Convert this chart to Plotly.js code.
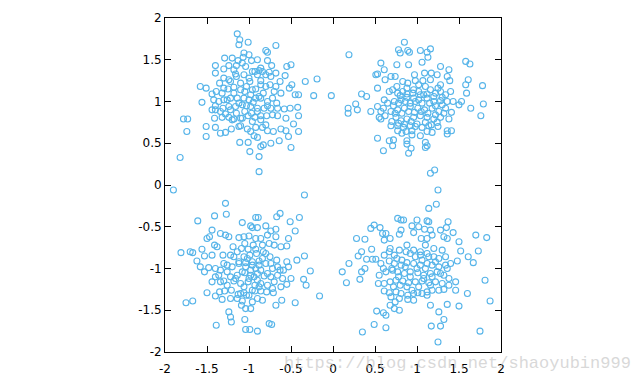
<!DOCTYPE html>
<html><head><meta charset="utf-8">
<script src="https://cdn.plot.ly/plotly-3.0.1.min.js"></script>
<style>html,body{margin:0;padding:0;background:#fff}#chart{width:640px;height:384px}</style>
</head><body><div id="chart"></div>
<script>
// Cluster A (upper left)
const clusterA_x = [
-1.14,-1.11,-1.12,-1.01,-0.68,-0.80,-0.78,-1.29,-1.20,-1.13,
-1.06,-1.00,-1.07,-1.08,-0.97,-0.90,-1.40,-1.40,-1.24,-1.15,
-1.04,-0.86,-0.88,-0.78,-0.73,-0.55,-0.50,-1.30,-1.18,-0.96,
-0.84,-0.76,-0.68,-0.57,-0.33,-0.19,-1.30,-1.24,-1.22,-1.15,
-1.06,-0.99,-0.90,-0.74,-0.63,-0.49,-0.52,-1.58,-1.51,-1.44,
-1.39,-1.32,-1.30,-1.18,-1.10,-1.03,-0.96,-0.86,-0.80,-0.70,
-0.45,-0.41,-0.23,-0.02,-1.56,-1.42,-1.36,-1.26,-1.22,-1.14,
-1.06,-1.00,-0.92,-0.86,-0.78,-0.67,-1.44,-1.40,-1.31,-1.24,
-1.16,-1.08,-0.98,-0.90,-0.82,-0.74,-0.58,-0.51,-0.42,-1.78,
-1.73,-1.74,-1.51,-1.51,-1.41,-1.40,-1.32,-1.24,-1.18,-1.10,
-1.01,-0.93,-0.86,-0.79,-0.66,-0.56,-0.47,-0.41,-0.41,-1.34,
-1.28,-1.21,-1.10,-1.02,-0.92,-0.84,-0.78,-0.71,-0.62,-0.56,
-0.53,-0.64,-0.50,-1.11,-1.01,-0.94,-0.90,-0.86,-0.83,-0.74,
-0.99,-0.88,-1.82,-0.88,
-1.18,-1.05,-0.98,-0.92,-1.12,-1.03,-0.95,-0.88,-0.83,-1.22,
-1.15,-1.05,-0.97,-0.90,-0.78,-0.72,-0.75,-0.86,-1.00,-1.10,
-1.25,-1.30,-1.28,-1.20,-1.08,-0.96,-0.86,-0.72,-0.66,-0.62,
-0.68,-0.80,-0.93,-1.16,-1.35,-1.40,-1.34,-1.12,-0.98,-0.80];
const clusterA_y = [
1.81,1.74,1.68,1.71,1.67,1.61,1.59,1.52,1.52,1.49,
1.58,1.56,1.53,1.46,1.49,1.50,1.43,1.34,1.43,1.43,
1.42,1.40,1.37,1.49,1.43,1.42,1.44,1.39,1.38,1.36,
1.36,1.35,1.34,1.31,1.24,1.27,1.28,1.26,1.24,1.30,
1.32,1.24,1.32,1.30,1.24,1.20,1.16,1.18,1.16,1.09,
1.12,1.10,1.16,1.17,1.14,1.18,1.14,1.20,1.18,1.12,
1.08,1.08,1.07,1.07,0.99,1.02,1.00,1.02,1.04,1.04,
1.04,1.02,1.04,1.04,1.00,0.98,0.90,0.90,0.92,0.94,
0.94,0.96,0.94,0.92,0.92,0.92,0.91,0.92,0.93,0.79,
0.79,0.64,0.70,0.58,0.80,0.69,0.81,0.81,0.79,0.80,
0.83,0.81,0.83,0.83,0.83,0.80,0.73,0.83,0.64,0.62,
0.63,0.67,0.71,0.67,0.69,0.69,0.65,0.64,0.67,0.65,
0.58,0.53,0.45,0.51,0.51,0.59,0.57,0.46,0.48,0.50,
0.40,0.34,0.33,0.16,
1.10,1.12,1.08,1.15,0.98,0.95,0.99,1.06,1.10,0.90,
0.86,0.88,0.86,0.88,0.95,1.04,1.20,1.25,1.28,1.22,
1.15,1.02,0.85,0.78,0.80,0.76,0.78,0.84,0.92,1.10,
1.18,1.32,1.36,1.33,1.22,0.95,0.88,0.70,0.64,0.72];

// Cluster B (upper right)
const clusterB_x = [
0.85,0.78,0.80,0.89,0.91,1.04,1.16,1.12,1.13,1.06,
0.19,0.57,0.76,0.90,1.28,1.38,1.58,1.63,0.61,0.53,
0.51,0.69,0.74,0.62,0.83,0.89,0.97,1.09,1.17,1.24,
0.98,1.07,1.16,1.28,1.36,1.39,1.61,1.58,1.78,
0.34,0.40,0.27,0.18,0.29,0.18,0.45,0.53,0.53,0.57,
0.61,0.67,0.71,0.77,0.83,0.88,0.96,1.02,1.08,1.16,
1.22,1.28,1.34,1.40,1.59,1.53,1.50,1.64,1.79,1.76,
1.43,0.65,0.73,0.81,0.88,0.96,1.02,1.12,1.20,1.28,
1.36,0.69,0.77,0.85,0.92,1.01,1.09,1.18,1.26,1.34,
1.41,0.55,0.57,0.75,0.81,0.88,0.96,1.04,1.12,1.20,
1.28,1.38,0.69,0.77,0.84,0.92,1.00,1.06,1.14,1.24,
1.36,1.41,1.36,0.77,0.87,0.94,1.04,1.12,1.18,0.53,
0.67,0.72,0.71,0.88,0.88,0.93,1.10,1.12,1.10,0.60,0.90,1.21,1.16,
0.72,0.78,0.86,0.92,0.98,1.06,1.15,1.22,0.74,0.82,
0.90,0.97,1.05,1.13,1.22,0.70,0.78,0.85,0.93,1.10,
1.17,1.25,0.80,0.88,0.95,1.04,1.12,1.20,0.60,0.62,
1.30,1.32,0.82,0.94,0.76,1.02,1.10,1.25,0.98,1.30];
const clusterB_y = [
1.71,1.62,1.58,1.61,1.59,1.61,1.63,1.59,1.53,1.47,
1.56,1.46,1.44,1.44,1.42,1.38,1.48,1.45,1.38,1.33,
1.32,1.30,1.30,1.26,1.24,1.22,1.32,1.34,1.34,1.32,
1.25,1.25,1.26,1.20,1.30,1.25,1.26,1.20,1.19,
1.09,1.06,0.97,0.92,0.90,0.86,0.88,1.16,0.94,0.88,
1.02,1.12,1.14,1.10,1.12,1.16,1.14,1.12,1.08,1.14,
1.10,1.12,1.08,1.12,1.10,1.00,0.96,0.92,0.97,0.83,
1.00,0.98,1.00,1.02,1.05,1.04,1.02,1.04,1.00,1.01,
1.00,0.88,0.90,0.92,0.94,0.92,0.90,0.92,0.88,0.92,
0.87,0.81,0.79,0.81,0.77,0.79,0.81,0.83,0.81,0.79,
0.81,0.79,0.71,0.71,0.69,0.71,0.73,0.69,0.71,0.75,
0.65,0.65,0.61,0.65,0.64,0.65,0.59,0.64,0.63,0.56,
0.53,0.54,0.47,0.53,0.49,0.44,0.51,0.47,0.45,0.41,0.38,0.18,0.14,
0.95,0.98,1.00,0.98,1.00,0.98,0.98,0.95,0.86,0.86,
0.88,0.87,0.88,0.86,0.84,0.76,0.74,0.73,0.76,0.75,
0.72,0.70,1.07,1.09,1.10,1.08,1.09,1.06,0.92,0.83,
0.96,0.86,0.62,0.60,1.18,1.20,1.18,1.16,0.70,1.05];

// Cluster C (lower left)
const clusterC_x = [
-1.90,-0.34,-1.28,-1.27,-1.41,-1.61,-0.63,-0.67,-0.92,-0.89,
-0.40,-1.08,-0.98,-0.96,-0.90,-0.80,-0.74,-0.68,-0.51,-0.45,
-1.44,-1.50,-1.47,-1.34,-1.28,-1.24,-1.12,-1.06,-1.00,-0.92,
-0.86,-0.78,-0.68,-0.53,-0.55,-0.62,-1.41,-1.38,-1.19,-1.09,
-1.01,-0.92,-0.84,-0.76,-0.70,-1.81,-1.70,-1.67,-1.56,-1.53,
-1.62,-1.44,-1.31,-1.22,-1.14,-1.06,-0.99,-0.91,-0.83,-0.75,
-0.67,-0.55,-0.43,-0.34,-1.58,-1.53,-1.48,-1.40,-1.34,-1.26,
-1.20,-1.12,-1.04,-0.96,-0.88,-0.80,-0.72,-0.63,-0.53,-0.27,
-1.44,-1.36,-1.30,-1.22,-1.14,-1.05,-0.98,-0.90,-0.82,-0.74,
-0.66,-0.59,-0.50,-0.35,-0.32,-1.34,-1.26,-1.18,-1.10,-1.01,
-0.93,-0.86,-0.78,-0.70,-0.62,-0.55,-1.50,-1.40,-1.35,-1.29,
-1.21,-1.13,-1.06,-1.00,-0.93,-0.86,-0.79,-0.71,-1.32,-1.22,
-1.14,-1.08,-1.03,-0.96,-0.90,-0.84,-0.68,-0.61,-0.45,-0.16,
-1.75,-1.67,-1.09,-1.04,-0.98,-1.24,-1.22,-1.21,-1.05,-1.39,
-1.04,-0.99,-0.90,-0.76,-0.73,
-1.02,-0.96,-0.92,-0.98,-1.04,-0.94,-1.00,-0.90,-0.86,-1.08,
-1.12,-0.84,-1.16,-1.06,-0.96,-0.88,-0.78,-0.74,-0.80,-1.18,
-1.26,-1.30,-1.10,-0.72,-0.66,-1.40,-0.95,-1.05,-0.60,-0.88];
const clusterC_y = [
-0.06,-0.12,-0.22,-0.35,-0.37,-0.43,-0.34,-0.38,-0.39,-0.39,
-0.39,-0.45,-0.49,-0.51,-0.51,-0.49,-0.55,-0.53,-0.44,-0.55,
-0.54,-0.64,-0.62,-0.58,-0.60,-0.62,-0.63,-0.62,-0.61,-0.64,
-0.64,-0.60,-0.62,-0.64,-0.73,-0.74,-0.72,-0.74,-0.74,-0.76,
-0.77,-0.77,-0.72,-0.70,-0.72,-0.81,-0.80,-0.81,-0.77,-0.85,
-0.91,-0.84,-0.84,-0.84,-0.80,-0.86,-0.84,-0.82,-0.80,-0.86,
-0.90,-0.92,-0.90,-0.85,-0.98,-1.04,-0.99,-1.00,-1.02,-0.96,
-0.98,-0.94,-0.93,-0.92,-0.91,-0.94,-1.00,-1.02,-0.98,-1.03,
-1.16,-1.08,-1.15,-1.10,-1.08,-1.05,-1.08,-1.06,-1.09,-1.10,
-1.08,-1.02,-1.12,-1.13,-1.20,-1.16,-1.20,-1.15,-1.18,-1.16,
-1.20,-1.18,-1.20,-1.16,-1.22,-1.19,-1.29,-1.33,-1.28,-1.27,
-1.26,-1.31,-1.29,-1.32,-1.27,-1.27,-1.28,-1.29,-1.37,-1.36,
-1.36,-1.39,-1.32,-1.40,-1.36,-1.38,-1.44,-1.38,-1.41,-1.33,
-1.41,-1.39,-1.44,-1.48,-1.48,-1.52,-1.58,-1.64,-1.61,-1.68,
-1.73,-1.73,-1.75,-1.66,-1.67,
-0.88,-0.96,-1.00,-1.02,-0.98,-1.10,-1.12,-1.14,-1.02,-1.04,
-0.92,-0.88,-1.12,-1.22,-1.26,-1.22,-1.06,-0.94,-0.82,-0.86,
-1.04,-0.94,-1.30,-1.24,-0.98,-1.10,-0.72,-0.70,-1.12,-0.96];

// Cluster D (lower right)
const clusterD_x = [
1.25,1.23,1.14,0.77,0.81,0.84,1.00,1.12,1.14,1.37,
0.49,0.56,0.45,0.94,1.02,1.09,1.16,1.28,1.35,1.43,
0.28,0.38,0.59,0.63,0.61,0.68,0.79,0.81,0.96,1.05,
1.12,1.18,1.32,1.36,1.50,1.70,1.83,1.52,1.61,1.73,
0.30,0.34,0.19,0.11,0.16,0.34,0.32,0.38,0.40,0.47,
0.51,0.46,0.57,0.61,0.67,0.73,0.79,0.87,0.92,0.98,
1.04,1.12,1.20,1.26,1.34,1.40,1.48,1.67,0.67,0.73,
0.81,0.88,0.96,1.04,1.12,1.18,1.26,1.36,0.55,0.63,
0.71,0.77,0.85,0.92,1.01,1.08,1.16,1.24,1.32,1.38,
1.46,1.81,0.54,0.61,0.68,0.75,0.83,0.90,0.98,1.06,
1.14,1.22,1.30,1.38,1.46,1.60,0.61,0.67,0.75,0.81,
0.89,0.96,1.01,1.06,1.12,1.18,1.26,1.32,0.89,0.96,
0.69,0.79,0.74,1.16,1.36,1.50,1.87,0.52,0.60,0.63,
0.68,0.73,0.79,1.26,1.32,0.49,0.63,1.17,1.28,0.35,
1.75,1.25,
0.76,0.82,0.70,0.78,0.86,0.92,1.00,1.06,1.10,1.08,
1.14,1.18,1.22,1.28,1.16,1.02,0.88,0.72,0.68,0.88,
1.10,1.20,1.30,0.60,1.34,0.96,1.04,0.80,1.12,0.94];
const clusterD_y = [
-0.06,-0.23,-0.28,-0.40,-0.42,-0.42,-0.42,-0.43,-0.44,-0.44,
-0.48,-0.51,-0.52,-0.49,-0.50,-0.53,-0.54,-0.54,-0.51,-0.57,
-0.64,-0.65,-0.58,-0.58,-0.66,-0.64,-0.59,-0.54,-0.57,-0.64,
-0.64,-0.60,-0.62,-0.64,-0.68,-0.60,-0.63,-0.79,-0.86,-0.79,
-0.85,-0.80,-0.94,-1.04,-1.17,-1.04,-1.13,-1.00,-0.89,-0.89,
-0.89,-0.77,-0.94,-0.84,-0.80,-0.84,-0.78,-0.80,-0.82,-0.86,
-0.84,-0.82,-0.86,-0.88,-0.86,-0.94,-0.91,-0.93,-0.91,-0.94,
-0.96,-0.93,-0.94,-0.96,-0.94,-0.96,-0.98,-1.00,-1.08,-1.04,
-1.02,-1.04,-1.06,-1.04,-1.05,-1.08,-1.06,-1.04,-1.08,-1.12,
-1.16,-1.14,-1.18,-1.18,-1.16,-1.14,-1.15,-1.17,-1.16,-1.15,
-1.17,-1.16,-1.18,-1.20,-1.26,-1.30,-1.27,-1.29,-1.28,-1.30,
-1.32,-1.30,-1.29,-1.30,-1.28,-1.26,-1.26,-1.25,-1.37,-1.38,
-1.34,-1.36,-1.40,-1.44,-1.43,-1.45,-1.39,-1.51,-1.53,-1.56,
-1.44,-1.48,-1.50,-1.52,-1.61,-1.67,-1.71,-1.69,-1.69,-1.76,
-1.75,-1.88,
-0.88,-0.90,-1.00,-1.10,-0.98,-1.10,-1.00,-0.90,-1.00,-1.12,
-0.86,-1.10,-0.92,-1.06,-1.20,-1.22,-1.22,-1.22,-0.76,-0.72,
-0.72,-0.76,-0.78,-1.00,-0.96,-0.78,-0.80,-1.20,-1.32,-1.26];

const tickValues = [-2,-1.5,-1,-0.5,0,0.5,1,1.5,2];
const tickLabels = ["-2","-1.5","-1","-0.5","0","0.5","1","1.5","2"];
const watermarkText = "https://blog.csdn.net/shaoyubin999";

const markerStyle = {symbol:'circle-open', size:6, color:'#56b4e9', line:{width:1.1, color:'#56b4e9'}};
function mk(x,y){return {type:'scatter', mode:'markers', x:x, y:y, marker:markerStyle, showlegend:false, hoverinfo:'none'};}
const data = [mk(clusterA_x,clusterA_y), mk(clusterB_x,clusterB_y), mk(clusterC_x,clusterC_y), mk(clusterD_x,clusterD_y)];

const axisCommon = {
  range:[-2,2], tickvals:tickValues, ticktext:tickLabels,
  showgrid:false, zeroline:false, showline:true, mirror:'ticks',
  linecolor:'#000', linewidth:1, ticks:'inside', ticklen:6, tickcolor:'#000', tickwidth:1,
  tickfont:{family:'DejaVu Sans', size:12, color:'#000'}
};
const layout = {
  width:640, height:384,
  margin:{l:165, r:139, t:18, b:32, pad:0},
  paper_bgcolor:'#fff', plot_bgcolor:'#fff',
  xaxis:Object.assign({}, axisCommon, {ticklabelstandoff:6}),
  yaxis:Object.assign({}, axisCommon),
  annotations:[{
    text:watermarkText, xref:'paper', yref:'paper', x:0.872, y:-0.033,
    xanchor:'center', yanchor:'middle', showarrow:false,
    font:{family:'Liberation Mono', size:17, color:'rgba(190,190,190,0.6)'}
  }]
};
Plotly.newPlot('chart', data, layout, {staticPlot:true, displayModeBar:false});
</script></body></html>
